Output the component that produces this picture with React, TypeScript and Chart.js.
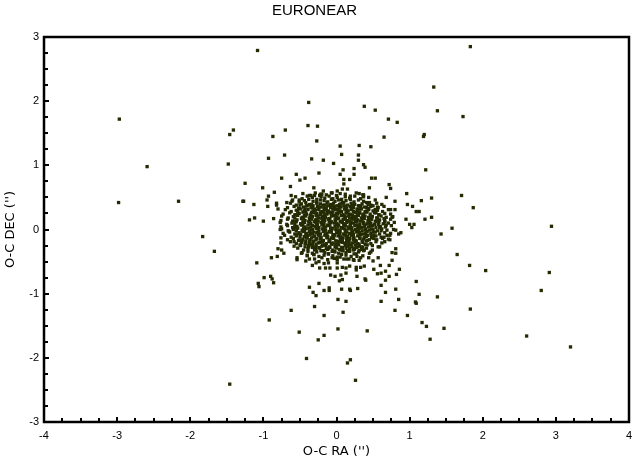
import React, { useEffect, useRef } from 'react';
import { Chart, registerables } from 'chart.js';

Chart.register(...registerables);

const chartTitle = 'EURONEAR';
const xAxisTitle = "O-C RA ('')";
const yAxisTitle = "O-C DEC ('')";

const xRange = [-4, 4];
const yRange = [-3, 3];
const minorStep = 0.25;

// Isolated / scattered measurements [O-C RA, O-C DEC] in arcsec
const scatterPoints: [number, number][] = [
  [-2.97, 1.72], [-1.41, 1.55], [-1.46, 1.48], [-2.59, 0.98], [-1.48, 1.02], [-2.98, 0.42], [-2.16, 0.44], [-1.28, 0.44],
  [-1.08, 2.79], [1.33, 2.22], [-0.38, 1.98], [0.38, 1.92], [0.53, 1.86], [1.38, 1.85], [0.71, 1.72], [0.83, 1.67],
  [-0.70, 1.55], [-0.39, 1.62], [-0.26, 1.61], [-0.87, 1.45], [0.65, 1.44], [1.20, 1.48], [1.19, 1.45], [-0.27, 1.38],
  [0.05, 1.30], [0.31, 1.31], [0.47, 1.29], [0.07, 1.17], [-0.71, 1.16], [0.30, 1.16], [-0.93, 1.11], [-0.34, 1.10],
  [-0.18, 1.08], [0.30, 1.08], [-0.04, 1.03], [0.37, 1.01], [0.39, 0.97], [0.24, 0.95], [0.09, 0.93], [-0.55, 0.86],
  [-0.24, 0.88], [0.05, 0.86], [0.24, 0.86], [1.22, 0.93], [-0.75, 0.80], [-0.50, 0.77], [-0.43, 0.80], [0.10, 0.78],
  [0.18, 0.78], [0.48, 0.80], [0.53, 0.80], [-1.25, 0.72], [-0.63, 0.67], [0.10, 0.71], [-0.31, 0.65], [0.72, 0.70],
  [0.74, 0.64], [-1.01, 0.65], [-0.85, 0.58], [0.08, 0.63], [0.15, 0.63], [-0.18, 0.60], [-0.06, 0.57], [0.01, 0.60],
  [0.96, 0.56], [0.45, 0.65], [0.31, 0.56], [0.37, 0.54], [0.37, 0.51], [-0.93, 0.52], [-0.62, 0.53], [-0.35, 0.53],
  [-0.30, 0.53], [-0.23, 0.53], [-0.22, 0.55], [-0.95, 0.46], [0.68, 0.50], [1.16, 0.45], [1.30, 0.49], [-1.27, 0.44],
  [-1.13, 0.39], [-0.82, 0.41], [-0.82, 0.38], [-0.68, 0.42], [-0.61, 0.44], [-0.51, 0.46], [0.80, 0.44], [0.97, 0.39],
  [1.04, 0.36], [0.47, 0.36], [0.56, 0.35], [0.74, 0.31], [0.80, 0.31], [1.09, 0.28], [1.13, 0.28], [-0.80, 0.32],
  [-0.94, 0.36], [-1.19, 0.15], [-1.12, 0.18], [-1.00, 0.13], [-0.86, 0.17], [0.76, 0.19], [0.95, 0.16], [1.21, 0.16],
  [1.30, 0.19], [1.00, 0.08], [1.06, 0.08],
  [1.83, 2.85], [1.73, 1.76], [1.71, 0.53], [1.87, 0.34], [2.94, 0.05],
  [-1.83, -0.11], [-1.67, -0.34], [-1.46, -2.41],
  [1.58, 0.02], [1.65, -0.39], [1.82, -0.56], [2.04, -0.64], [2.91, -0.67], [2.80, -0.95], [1.83, -1.24],
  [1.47, -1.54], [2.60, -1.66], [3.20, -1.83],
  [1.43, -0.07], [-1.09, -0.52], [-0.77, 0.00], [-0.65, -0.03], [-0.76, -0.13], [-0.76, -0.21], [-0.80, -0.30],
  [-0.75, -0.32], [-0.72, -0.37], [-0.81, -0.42], [-0.89, -0.44], [-0.99, -0.75], [-0.90, -0.73], [-0.88, -0.77],
  [-0.86, -0.83], [-1.07, -0.84], [-1.06, -0.89], [-0.92, -1.41], [-0.62, -1.26], [-0.51, -1.60], [-0.41, -2.01],
  [-0.30, -1.20], [-0.25, -1.72], [-0.17, -1.34], [-0.17, -1.65], [-0.37, -0.90], [-0.32, -0.98], [-0.28, -1.03],
  [-0.24, -0.84], [-0.17, -0.95], [-0.10, -0.91], [-0.10, -0.95], [0.02, -1.09], [0.09, -1.29], [0.02, -1.55],
  [0.07, -0.93], [0.18, -0.93], [0.19, -0.95], [0.29, -0.92], [0.13, -1.12], [0.15, -2.08], [0.19, -2.03],
  [0.26, -2.35], [0.42, -1.58], [0.61, -0.87], [0.61, -1.12], [0.67, -0.98], [0.81, -0.93], [0.85, -1.09],
  [0.80, -1.26], [0.97, -1.34], [1.08, -1.13], [1.09, -1.15], [1.13, -1.01], [1.09, -0.81], [1.17, -1.45],
  [1.23, -1.51], [1.28, -1.71], [1.38, -1.05], [0.40, -0.79], [0.39, -0.77], [0.28, -0.73], [0.13, -0.68],
  [0.08, -0.78], [0.04, -0.80], [-0.08, -0.71], [-0.02, -0.73], [0.06, -0.71], [0.72, -0.73], [0.67, -0.79],
  [0.61, -0.68], [0.67, -0.65], [0.86, -0.62], [0.82, -0.70], [0.56, -0.69], [0.51, -0.62], [0.60, -0.56],
  [0.72, -0.56], [0.76, -0.48], [0.81, -0.37], [0.76, -0.36], [0.81, -0.30], [0.73, -0.16], [0.73, -0.09],
  [0.65, -0.12], [0.66, -0.19], [0.85, -0.07], [0.88, -0.05], [0.81, -0.01], [1.03, 0.03], [0.59, -0.27],
  [0.57, -0.44], [0.44, -0.44], [0.50, -0.49], [0.38, -0.57], [0.33, -0.59], [0.27, -0.59], [0.27, -0.63],
  [0.18, -0.57], [0.13, -0.60], [0.08, -0.59], [0.01, -0.60], [0.01, -0.52], [-0.09, -0.60], [-0.15, -0.60],
  [-0.23, -0.60], [-0.24, -0.50], [-0.33, -0.56], [-0.28, -0.52], [-0.37, -0.46], [-0.42, -0.49], [-0.54, -0.47],
  [-0.54, -0.44], [-0.06, -0.44], [0.01, -0.47], [0.10, -0.46], [0.17, -0.46], [0.23, -0.47], [0.31, -0.48],
  [0.28, -0.42], [-0.11, -0.52], [-0.17, -0.53], [-0.48, -0.37], [-0.40, -0.40], [-0.31, -0.39], [-0.49, -0.25],
  [-0.58, -0.19], [-0.51, -0.17], [-0.42, -0.22], [0.47, -0.35], [0.38, -0.32], [0.31, -0.33], [0.24, -0.31],
];

// Dense core of the distribution, read row by row (RA values and matching DEC values)
const coreRA: number[][] = [
  [-0.46, -0.37, -0.29, -0.20, -0.14, -0.07, 0.00, 0.05, 0.12, 0.19, 0.27, 0.36],
  [-0.56, -0.47, -0.40, -0.33, -0.27, -0.21, -0.16, -0.10, -0.05, 0.01, 0.07, 0.12, 0.18, 0.25, 0.33, 0.44],
  [-0.60, -0.51, -0.44, -0.38, -0.32, -0.27, -0.22, -0.17, -0.12, -0.07, -0.02, 0.03, 0.08, 0.13, 0.19, 0.24, 0.30, 0.37, 0.45, 0.53],
  [-0.63, -0.55, -0.48, -0.42, -0.37, -0.32, -0.27, -0.22, -0.18, -0.13, -0.08, -0.04, 0.01, 0.06, 0.10, 0.15, 0.20, 0.25, 0.30, 0.35, 0.41, 0.47, 0.55, 0.62],
  [-0.67, -0.58, -0.51, -0.45, -0.40, -0.35, -0.30, -0.26, -0.21, -0.17, -0.12, -0.08, -0.03, 0.01, 0.06, 0.10, 0.14, 0.19, 0.23, 0.28, 0.33, 0.38, 0.44, 0.50, 0.57, 0.65],
  [-0.70, -0.62, -0.55, -0.49, -0.44, -0.39, -0.34, -0.29, -0.25, -0.20, -0.16, -0.11, -0.07, -0.02, 0.02, 0.07, 0.11, 0.16, 0.20, 0.25, 0.29, 0.34, 0.39, 0.44, 0.50, 0.56, 0.63, 0.71],
  [-0.73, -0.64, -0.57, -0.51, -0.46, -0.41, -0.36, -0.31, -0.27, -0.22, -0.18, -0.13, -0.09, -0.04, 0.00, 0.04, 0.09, 0.13, 0.18, 0.22, 0.27, 0.31, 0.36, 0.41, 0.46, 0.52, 0.58, 0.66, 0.74],
  [-0.75, -0.66, -0.59, -0.53, -0.47, -0.42, -0.37, -0.33, -0.28, -0.24, -0.19, -0.15, -0.10, -0.06, -0.01, 0.03, 0.07, 0.12, 0.16, 0.21, 0.25, 0.30, 0.34, 0.39, 0.44, 0.49, 0.55, 0.61, 0.68, 0.77],
  [-0.76, -0.67, -0.60, -0.54, -0.48, -0.43, -0.38, -0.34, -0.29, -0.25, -0.20, -0.16, -0.11, -0.07, -0.02, 0.02, 0.06, 0.11, 0.15, 0.20, 0.24, 0.29, 0.33, 0.38, 0.43, 0.48, 0.53, 0.59, 0.66, 0.74],
  [-0.77, -0.68, -0.61, -0.55, -0.49, -0.44, -0.39, -0.35, -0.30, -0.26, -0.21, -0.17, -0.12, -0.08, -0.03, 0.01, 0.05, 0.10, 0.14, 0.19, 0.23, 0.28, 0.32, 0.37, 0.42, 0.47, 0.52, 0.58, 0.64, 0.71, 0.79],
  [-0.76, -0.67, -0.60, -0.54, -0.48, -0.43, -0.38, -0.33, -0.29, -0.24, -0.20, -0.15, -0.11, -0.06, -0.02, 0.03, 0.07, 0.12, 0.16, 0.21, 0.25, 0.30, 0.34, 0.39, 0.44, 0.49, 0.54, 0.60, 0.67, 0.75],
  [-0.75, -0.66, -0.59, -0.53, -0.47, -0.42, -0.37, -0.33, -0.28, -0.24, -0.19, -0.15, -0.10, -0.06, -0.01, 0.04, 0.08, 0.13, 0.17, 0.22, 0.26, 0.31, 0.35, 0.40, 0.45, 0.50, 0.56, 0.62, 0.69, 0.78],
  [-0.73, -0.64, -0.57, -0.51, -0.46, -0.41, -0.36, -0.31, -0.27, -0.22, -0.18, -0.13, -0.09, -0.04, 0.00, 0.05, 0.09, 0.14, 0.18, 0.23, 0.27, 0.32, 0.37, 0.42, 0.47, 0.53, 0.59, 0.66, 0.74],
  [-0.71, -0.62, -0.55, -0.49, -0.44, -0.39, -0.34, -0.30, -0.25, -0.21, -0.16, -0.12, -0.07, -0.03, 0.02, 0.06, 0.11, 0.15, 0.20, 0.24, 0.29, 0.33, 0.38, 0.43, 0.48, 0.54, 0.61, 0.69],
  [-0.67, -0.59, -0.52, -0.46, -0.41, -0.36, -0.31, -0.27, -0.22, -0.18, -0.13, -0.09, -0.04, 0.00, 0.05, 0.09, 0.14, 0.18, 0.23, 0.27, 0.32, 0.37, 0.42, 0.48, 0.55, 0.63, 0.71],
  [-0.63, -0.55, -0.48, -0.42, -0.37, -0.32, -0.28, -0.23, -0.19, -0.14, -0.10, -0.05, -0.01, 0.04, 0.08, 0.13, 0.17, 0.22, 0.26, 0.31, 0.36, 0.41, 0.47, 0.54, 0.62],
  [-0.58, -0.50, -0.43, -0.38, -0.33, -0.28, -0.24, -0.19, -0.15, -0.10, -0.06, -0.01, 0.03, 0.08, 0.12, 0.17, 0.21, 0.26, 0.31, 0.36, 0.42, 0.49, 0.57],
  [-0.53, -0.45, -0.39, -0.33, -0.28, -0.23, -0.18, -0.14, -0.09, -0.05, 0.00, 0.04, 0.09, 0.13, 0.18, 0.23, 0.28, 0.34, 0.41, 0.49],
  [-0.47, -0.39, -0.33, -0.27, -0.21, -0.16, -0.11, -0.06, -0.02, 0.03, 0.08, 0.13, 0.18, 0.24, 0.30, 0.37, 0.45],
  [-0.40, -0.31, -0.24, -0.17, -0.11, -0.05, 0.01, 0.07, 0.13, 0.20, 0.27, 0.36],
  [-0.30, -0.20, -0.12, -0.03, 0.05, 0.14, 0.24, 0.33],
  // denser inner part, between the rows above
  [-0.50, -0.41, -0.34, -0.25, -0.16, -0.06, 0.04, 0.12, 0.22, 0.32, 0.43],
  [-0.52, -0.43, -0.33, -0.24, -0.14, -0.05, 0.04, 0.13, 0.21, 0.31, 0.41, 0.53],
  [-0.53, -0.42, -0.32, -0.22, -0.13, -0.05, 0.05, 0.14, 0.23, 0.32, 0.42, 0.54],
  [-0.55, -0.44, -0.35, -0.26, -0.16, -0.07, 0.02, 0.11, 0.20, 0.29, 0.37, 0.47, 0.58],
  [-0.57, -0.45, -0.36, -0.27, -0.18, -0.09, 0.00, 0.09, 0.18, 0.27, 0.36, 0.46, 0.56, 0.65],
  [-0.58, -0.46, -0.37, -0.28, -0.19, -0.10, -0.01, 0.08, 0.17, 0.26, 0.35, 0.45, 0.55, 0.66],
  [-0.57, -0.46, -0.36, -0.27, -0.18, -0.09, 0.00, 0.10, 0.19, 0.28, 0.37, 0.46, 0.57, 0.68],
  [-0.56, -0.45, -0.35, -0.26, -0.17, -0.08, 0.02, 0.11, 0.20, 0.29, 0.38, 0.48, 0.59],
  [-0.55, -0.44, -0.34, -0.25, -0.16, -0.07, 0.03, 0.12, 0.21, 0.30, 0.39, 0.50, 0.61],
  [-0.53, -0.42, -0.33, -0.24, -0.15, -0.05, 0.04, 0.13, 0.22, 0.31, 0.40, 0.51],
  [-0.50, -0.40, -0.31, -0.22, -0.13, -0.04, 0.05, 0.14, 0.23, 0.32, 0.41, 0.51],
  [-0.47, -0.37, -0.28, -0.19, -0.10, -0.01, 0.08, 0.17, 0.26, 0.35, 0.45],
  [-0.43, -0.34, -0.25, -0.16, -0.07, 0.02, 0.11, 0.20, 0.29, 0.39],
  [-0.38, -0.29, -0.20, -0.11, -0.02, 0.07, 0.16, 0.25, 0.34],
  [-0.30, -0.21, -0.12, -0.03, 0.06, 0.15, 0.24],
];

const coreDEC: number[][] = [
  [0.56, 0.53, 0.57, 0.55, 0.54, 0.57, 0.53, 0.56, 0.55, 0.52, 0.57, 0.54],
  [0.51, 0.48, 0.52, 0.50, 0.47, 0.51, 0.49, 0.52, 0.48, 0.50, 0.47, 0.51, 0.49, 0.52, 0.48, 0.50],
  [0.46, 0.43, 0.45, 0.47, 0.44, 0.42, 0.46, 0.45, 0.43, 0.47, 0.44, 0.46, 0.42, 0.45, 0.47, 0.43, 0.46, 0.44, 0.42, 0.46],
  [0.41, 0.38, 0.40, 0.42, 0.39, 0.37, 0.41, 0.40, 0.38, 0.42, 0.39, 0.41, 0.37, 0.40, 0.42, 0.38, 0.41, 0.39, 0.37, 0.40, 0.42, 0.38, 0.41, 0.39],
  [0.34, 0.36, 0.33, 0.35, 0.37, 0.34, 0.32, 0.36, 0.35, 0.33, 0.37, 0.34, 0.36, 0.32, 0.35, 0.37, 0.33, 0.36, 0.34, 0.32, 0.36, 0.35, 0.33, 0.37, 0.34, 0.36],
  [0.31, 0.28, 0.30, 0.32, 0.29, 0.31, 0.27, 0.30, 0.32, 0.28, 0.31, 0.29, 0.27, 0.31, 0.30, 0.28, 0.32, 0.29, 0.31, 0.27, 0.30, 0.32, 0.28, 0.31, 0.29, 0.30, 0.28, 0.31],
  [0.24, 0.26, 0.23, 0.25, 0.27, 0.24, 0.22, 0.26, 0.25, 0.23, 0.27, 0.24, 0.26, 0.22, 0.25, 0.27, 0.23, 0.26, 0.24, 0.22, 0.26, 0.25, 0.23, 0.27, 0.24, 0.26, 0.23, 0.25, 0.24],
  [0.21, 0.18, 0.20, 0.22, 0.19, 0.21, 0.17, 0.20, 0.22, 0.18, 0.21, 0.19, 0.17, 0.21, 0.20, 0.18, 0.22, 0.19, 0.21, 0.17, 0.20, 0.22, 0.18, 0.21, 0.19, 0.20, 0.18, 0.21, 0.19, 0.20],
  [0.14, 0.16, 0.13, 0.15, 0.17, 0.14, 0.12, 0.16, 0.15, 0.13, 0.17, 0.14, 0.16, 0.12, 0.15, 0.17, 0.13, 0.16, 0.14, 0.12, 0.16, 0.15, 0.13, 0.17, 0.14, 0.16, 0.13, 0.15, 0.14, 0.16],
  [0.11, 0.08, 0.10, 0.12, 0.09, 0.11, 0.07, 0.10, 0.12, 0.08, 0.11, 0.09, 0.07, 0.11, 0.10, 0.08, 0.12, 0.09, 0.11, 0.07, 0.10, 0.12, 0.08, 0.11, 0.09, 0.10, 0.08, 0.11, 0.09, 0.10, 0.11],
  [0.04, 0.06, 0.03, 0.05, 0.07, 0.04, 0.02, 0.06, 0.05, 0.03, 0.07, 0.04, 0.06, 0.02, 0.05, 0.07, 0.03, 0.06, 0.04, 0.02, 0.06, 0.05, 0.03, 0.07, 0.04, 0.06, 0.03, 0.05, 0.04, 0.06],
  [0.01, -0.02, 0.00, 0.02, -0.01, 0.01, -0.03, 0.00, 0.02, -0.02, 0.01, -0.01, -0.03, 0.01, 0.00, -0.02, 0.02, -0.01, 0.01, -0.03, 0.00, 0.02, -0.02, 0.01, -0.01, 0.00, -0.02, 0.01, -0.01, 0.00],
  [-0.06, -0.04, -0.07, -0.05, -0.03, -0.06, -0.08, -0.04, -0.05, -0.07, -0.03, -0.06, -0.04, -0.08, -0.05, -0.03, -0.07, -0.04, -0.06, -0.08, -0.04, -0.05, -0.07, -0.03, -0.06, -0.04, -0.07, -0.05, -0.06],
  [-0.09, -0.12, -0.10, -0.08, -0.11, -0.09, -0.13, -0.10, -0.08, -0.12, -0.09, -0.11, -0.13, -0.09, -0.10, -0.12, -0.08, -0.11, -0.09, -0.13, -0.10, -0.08, -0.12, -0.09, -0.11, -0.10, -0.12, -0.09],
  [-0.16, -0.14, -0.17, -0.15, -0.13, -0.16, -0.18, -0.14, -0.15, -0.17, -0.13, -0.16, -0.14, -0.18, -0.15, -0.13, -0.17, -0.14, -0.16, -0.18, -0.14, -0.15, -0.17, -0.13, -0.16, -0.14, -0.15],
  [-0.19, -0.22, -0.20, -0.18, -0.21, -0.19, -0.23, -0.20, -0.18, -0.22, -0.19, -0.21, -0.23, -0.19, -0.20, -0.22, -0.18, -0.21, -0.19, -0.23, -0.20, -0.18, -0.22, -0.19, -0.21],
  [-0.26, -0.24, -0.27, -0.25, -0.23, -0.26, -0.28, -0.24, -0.25, -0.27, -0.23, -0.26, -0.24, -0.28, -0.25, -0.23, -0.27, -0.24, -0.26, -0.28, -0.24, -0.25, -0.27],
  [-0.29, -0.32, -0.30, -0.28, -0.31, -0.29, -0.33, -0.30, -0.28, -0.32, -0.29, -0.31, -0.33, -0.29, -0.30, -0.32, -0.28, -0.31, -0.29, -0.32],
  [-0.36, -0.34, -0.37, -0.35, -0.33, -0.36, -0.38, -0.34, -0.35, -0.37, -0.33, -0.36, -0.34, -0.38, -0.35, -0.33, -0.37],
  [-0.41, -0.39, -0.42, -0.40, -0.38, -0.41, -0.43, -0.39, -0.40, -0.42, -0.38, -0.41],
  [-0.46, -0.44, -0.47, -0.45, -0.43, -0.46, -0.48, -0.44],
  // denser inner part, between the rows above
  [0.38, 0.37, 0.39, 0.36, 0.38, 0.37, 0.39, 0.36, 0.38, 0.37, 0.39],
  [0.33, 0.32, 0.34, 0.31, 0.33, 0.32, 0.34, 0.31, 0.33, 0.32, 0.34, 0.31],
  [0.28, 0.27, 0.29, 0.26, 0.28, 0.27, 0.29, 0.26, 0.28, 0.27, 0.29, 0.26],
  [0.23, 0.22, 0.24, 0.21, 0.23, 0.22, 0.24, 0.21, 0.23, 0.22, 0.24, 0.21, 0.23],
  [0.18, 0.17, 0.19, 0.16, 0.18, 0.17, 0.19, 0.16, 0.18, 0.17, 0.19, 0.16, 0.18, 0.17],
  [0.13, 0.12, 0.14, 0.11, 0.13, 0.12, 0.14, 0.11, 0.13, 0.12, 0.14, 0.11, 0.13, 0.12],
  [0.08, 0.07, 0.09, 0.06, 0.08, 0.07, 0.09, 0.06, 0.08, 0.07, 0.09, 0.06, 0.08, 0.07],
  [0.03, 0.02, 0.04, 0.01, 0.03, 0.02, 0.04, 0.01, 0.03, 0.02, 0.04, 0.01, 0.03],
  [-0.02, -0.03, -0.01, -0.04, -0.02, -0.03, -0.01, -0.04, -0.02, -0.03, -0.01, -0.04, -0.02],
  [-0.07, -0.08, -0.06, -0.09, -0.07, -0.08, -0.06, -0.09, -0.07, -0.08, -0.06, -0.09],
  [-0.12, -0.13, -0.11, -0.14, -0.12, -0.13, -0.11, -0.14, -0.12, -0.13, -0.11, -0.14],
  [-0.17, -0.18, -0.16, -0.19, -0.17, -0.18, -0.16, -0.19, -0.17, -0.18, -0.16],
  [-0.22, -0.23, -0.21, -0.24, -0.22, -0.23, -0.21, -0.24, -0.22, -0.23],
  [-0.27, -0.28, -0.26, -0.29, -0.27, -0.28, -0.26, -0.29, -0.27],
  [-0.32, -0.33, -0.31, -0.34, -0.32, -0.33, -0.31],
];

const FONT = "'Liberation Sans', Arial, Helvetica, sans-serif";
const AXIS_FONT = "'DejaVu Sans', 'Liberation Sans', Arial, sans-serif";

const framePlugin = {
  id: 'frameAndInnerTicks',
  afterDraw(chart: any) {
    const { ctx, chartArea: a, scales } = chart;
    const xs = scales.x;
    const ys = scales.y;
    ctx.save();
    ctx.strokeStyle = '#000';
    ctx.lineWidth = 2;
    const nx = Math.round((xRange[1] - xRange[0]) / minorStep);
    for (let i = 1; i < nx; i++) {
      const v = xRange[0] + i * minorStep;
      const p = Math.round(xs.getPixelForValue(v));
      const len = Number.isInteger(v) ? 5 : 4;
      ctx.beginPath();
      ctx.moveTo(p, a.bottom);
      ctx.lineTo(p, a.bottom - len);
      ctx.stroke();
    }
    const ny = Math.round((yRange[1] - yRange[0]) / minorStep);
    for (let i = 1; i < ny; i++) {
      const v = yRange[0] + i * minorStep;
      const p = Math.round(ys.getPixelForValue(v));
      const len = Number.isInteger(v) ? 5 : 4;
      ctx.beginPath();
      ctx.moveTo(a.left, p);
      ctx.lineTo(a.left + len, p);
      ctx.stroke();
    }
    ctx.lineWidth = 2.5;
    ctx.strokeRect(a.left, a.top, a.right - a.left, a.bottom - a.top);
    ctx.restore();
  },
};

export default function App() {
  const canvasRef = useRef<HTMLCanvasElement | null>(null);

  useEffect(() => {
    if (!canvasRef.current) return;
    const points: { x: number; y: number }[] = [];
    scatterPoints.forEach(([x, y]) => points.push({ x, y }));
    coreRA.forEach((row, r) => {
      const decRow = coreDEC[r] || [];
      const n = Math.min(row.length, decRow.length);
      for (let i = 0; i < n; i++) points.push({ x: row[i], y: decRow[i] });
    });

    const chart = new Chart(canvasRef.current, {
      type: 'scatter',
      data: {
        datasets: [
          {
            data: points,
            pointStyle: 'rect',
            pointRadius: 2.35,
            borderWidth: 0,
            backgroundColor: '#242b02',
            borderColor: '#242b02',
          },
        ],
      },
      plugins: [framePlugin],
      options: {
        animation: false,
        responsive: false,
        events: [],
        layout: { padding: { left: 0, right: 4, top: 0, bottom: 0 } },
        plugins: {
          legend: { display: false },
          tooltip: { enabled: false },
          title: {
            display: true,
            text: chartTitle,
            color: '#000',
            font: { family: FONT, size: 15, weight: 'normal' },
            padding: { top: 2, bottom: 17 },
          },
        },
        scales: {
          x: {
            type: 'linear',
            min: xRange[0],
            max: xRange[1],
            grid: { display: false, drawTicks: false },
            border: { display: false },
            ticks: { stepSize: 1, color: '#000', font: { family: FONT, size: 11 }, padding: 7 },
            title: {
              display: true,
              text: xAxisTitle,
              color: '#000',
              font: { family: AXIS_FONT, size: 13 },
              padding: { top: 0, bottom: 8 },
            },
            afterFit: (s: any) => {
              s.height = 45;
              s.paddingLeft = 0;
              s.paddingRight = 0;
            },
          },
          y: {
            type: 'linear',
            min: yRange[0],
            max: yRange[1],
            grid: { display: false, drawTicks: false },
            border: { display: false },
            ticks: { stepSize: 1, color: '#000', font: { family: FONT, size: 11 }, padding: 5 },
            title: {
              display: true,
              text: yAxisTitle,
              color: '#000',
              font: { family: AXIS_FONT, size: 13 },
              padding: { top: 3, bottom: 0 },
            },
            afterFit: (s: any) => {
              s.width = 44;
              s.paddingTop = 0;
              s.paddingBottom = 0;
            },
          },
        },
      },
    } as any);
    return () => chart.destroy();
  }, []);

  return (
    <div style={{ position: 'absolute', left: 0, top: 0, width: 633, height: 467, background: '#fff' }}>
      <canvas ref={canvasRef} width={633} height={467} style={{ width: 633, height: 467 }} />
    </div>
  );
}
